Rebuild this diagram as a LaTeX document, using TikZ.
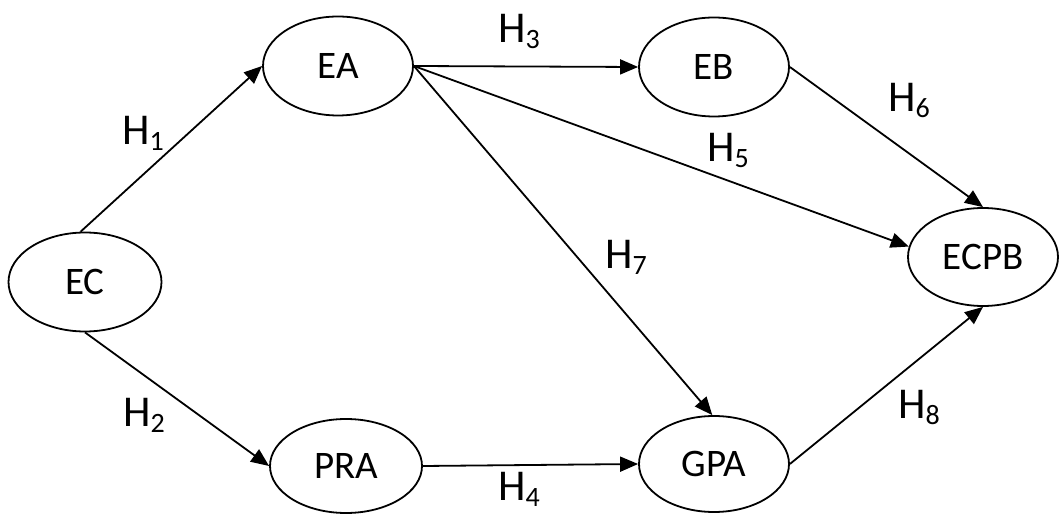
\documentclass[tikz,border=0pt]{standalone}
\usepackage{fontspec}
\setmainfont{Carlito}
\usetikzlibrary{shapes.geometric,arrows.meta}
\newcommand{\hyp}[1]{H\raisebox{-6pt}{\fontsize{28}{28}\selectfont #1}}
\begin{document}
\begin{tikzpicture}[x=1pt,y=1pt,
  var/.style={draw,ellipse,line width=1.8pt,inner sep=0pt,font=\fontsize{39}{39}\selectfont},
  conn/.style={line width=1.8pt,-{Triangle[length=18pt,width=15pt]}},
  hlab/.style={anchor=base west,inner sep=0pt,font=\fontsize{44}{44}\selectfont}]
\useasboundingbox[fill=white] (0,0) rectangle (1060,514);
\node[var,minimum width=153pt,minimum height=99pt] (EC) at (85,232) {EC};
\node[var,minimum width=150pt,minimum height=99pt] (EA) at (338,448) {EA};
\node[var,minimum width=150pt,minimum height=99pt] (EB) at (714,447) {EB};
\node[var,minimum width=150pt,minimum height=98pt] (ECPB) at (983,257) {ECPB};
\node[var,minimum width=152pt,minimum height=94pt] (PRA) at (346,48) {PRA};
\node[var,minimum width=150pt,minimum height=96pt] (GPA) at (714,50) {GPA};
\draw[conn] (EC.95) -- (EA.west);
\draw[conn] (EC.south) -- (PRA.west);
\draw[conn] (EA.east) -- (EB.west);
\draw[conn] (EA.east) -- (ECPB.172);
\draw[conn] (EA.east) -- (GPA.92);
\draw[conn] (EB.east) -- (ECPB.north);
\draw[conn] (PRA.east) -- (GPA.west);
\draw[conn] (GPA.east) -- (ECPB.south);
\node[hlab] (h1) at (122,369) {\hyp{1}};
\node[hlab] (h2) at (123,87) {\hyp{2}};
\node[hlab] (h3) at (498,471) {\hyp{3}};
\node[hlab] (h4) at (498,13) {\hyp{4}};
\node[hlab] (h5) at (707,352) {\hyp{5}};
\node[hlab] (h6) at (888,402) {\hyp{6}};
\node[hlab] (h7) at (605,245) {\hyp{7}};
\node[hlab] (h8) at (898,95) {\hyp{8}};
\end{tikzpicture}
\end{document}
